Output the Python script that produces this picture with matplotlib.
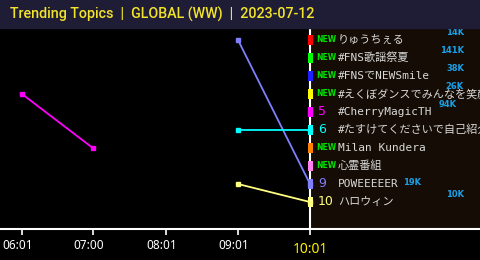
import matplotlib
matplotlib.use("Agg")
import matplotlib.pyplot as plt
import matplotlib.transforms as mtransforms
from matplotlib.patches import Rectangle

# --- data ---
times = ["06:01", "07:00", "08:01", "09:01", "10:01"]
topics = ["りゅうちぇる", "#FNS歌謡祭夏", "#FNSでNEWSmile", "#えくぼダンスでみんなを笑顔に",
          "#CherryMagicTH", "#たすけてくださいで自己紹介", "Milan Kundera", "心霊番組",
          "POWEEEEER", "ハロウィン"]
is_new = [True, True, True, True, False, False, True, True, False, False]
counts = ["14K", "141K", "38K", "26K", "94K", None, None, None, "19K", "10K"]
colors = ["#ff0000", "#00ff00", "#2020ff", "#ffff00", "#ff00ff", "#00ffff",
          "#ff8000", "#ff80f0", "#8080ff", "#ffff80"]

# rank history per time slot (None = not in top 10)
cherry_ranks = [4, 7, None, None, 5]
power_ranks = [None, None, None, 1, 9]
tasukete_ranks = [None, None, None, 6, 6]
halloween_ranks = [None, None, None, 9, 10]
history = [(cherry_ranks, "#ff00ff"), (power_ranks, "#8080ff"),
           (tasukete_ranks, "#00ffff"), (halloween_ranks, "#ffff80")]

# --- layout ---
W, H = 480, 260
PX_MIN = 1.2      # pixels per minute
PX_RANK = 18      # pixels per rank
ax_top, ax_bot = 28, 229
count_right = [464, 464, 464, 464, 457, 0, 0, 0, 421, 464]
count_dy = [7, 7, 7, 7, 7, 0, 0, 0, 1, 7]

minutes = [int(t[:2]) * 60 + int(t[3:]) - 360 for t in times]
x_last = minutes[-1]

fig = plt.figure(figsize=(W / 100, H / 100), dpi=100, facecolor="black")
fig.patches.append(Rectangle((0, 1 - ax_top / H), 1, ax_top / H, transform=fig.transFigure,
                             color="#1f1c35", zorder=0))
ax = fig.add_axes([0, 1 - ax_bot / H, 1, (ax_bot - ax_top) / H])
ax.set_facecolor("black")
x0 = minutes[0] - 22 / PX_MIN
ax.set_xlim(x0, x0 + W / PX_MIN)
r0 = 1 - (40 - ax_top) / PX_RANK
ax.set_ylim(r0 + (ax_bot - ax_top) / PX_RANK, r0)

ax.axvspan(x_last, ax.get_xlim()[1], color="#150d05", zorder=0)
ax.axvline(x_last, color="white", lw=1.5, zorder=1)

for ranks, c in history:
    for i in range(len(ranks) - 1):
        if ranks[i] is not None and ranks[i + 1] is not None:
            ax.plot(minutes[i:i + 2], ranks[i:i + 2], color=c, lw=1.3, zorder=2)
    pts = [(m, r) for m, r in zip(minutes, ranks) if r is not None]
    ax.plot([p[0] for p in pts], [p[1] for p in pts], ls="none", marker="s",
            ms=3.2, color=c, zorder=3)

ranks_now = list(range(1, len(topics) + 1))
ax.bar([x_last] * len(topics), [10 / PX_RANK] * len(topics), width=5 / PX_MIN,
       bottom=[r - 5 / PX_RANK for r in ranks_now], color=colors, zorder=4)


def off(dx, dy):
    return mtransforms.offset_copy(ax.transData, fig=fig, x=dx, y=dy, units="dots")


for r, name, new, cnt, c, cr, dy in zip(ranks_now, topics, is_new, counts, colors,
                                        count_right, count_dy):
    if new:
        ax.text(x_last, r, "NEW", transform=off(6, 0), color="#00e000", fontsize=5.5,
                fontweight="bold", va="center", ha="left", zorder=5)
    else:
        ax.text(x_last, r, str(r), transform=off(8, 0), color=c, fontsize=9,
                va="center", ha="left", zorder=5)
    ax.text(x_last, r, name, transform=off(28, 0), color="#d8d8d8", fontsize=8,
            family=["DejaVu Sans Mono", "Noto Sans CJK JP"], va="center", ha="left",
            zorder=5)
    if cnt:
        ax.text(cr, r, cnt, transform=mtransforms.blended_transform_factory(
                    mtransforms.IdentityTransform(), off(0, dy)),
                color="#18a0e8", fontsize=6, fontweight="bold", va="center", ha="right",
                zorder=6)

# --- axes styling ---
for s in ["top", "left", "right"]:
    ax.spines[s].set_visible(False)
ax.spines["bottom"].set_color("white")
ax.spines["bottom"].set_linewidth(1.5)
ax.set_yticks([])
ax.set_xticks(minutes)
ax.set_xticklabels(times, family="Noto Sans", fontsize=8.5, color="white")
ax.tick_params(axis="x", colors="white", length=4, width=1.2, pad=3)
for i, lab in enumerate(ax.get_xticklabels()):
    if i == len(times) - 1:
        lab.set_color("#ffee00")
        lab.set_fontsize(10)
        lab.set_fontweight("medium")
        lab.set_transform(lab.get_transform() + mtransforms.ScaledTranslation(0, -3 / 100, fig.dpi_scale_trans))
    else:
        lab.set_transform(lab.get_transform() + mtransforms.ScaledTranslation(-4.5 / 100, 0, fig.dpi_scale_trans))

fig.text(10 / W, 1 - 14 / H, "Trending Topics  |  GLOBAL (WW)  |  2023-07-12",
         color="#f2e42a", fontsize=10.3, family="Roboto", fontweight="medium",
         va="center", ha="left")

fig.savefig("out.png", dpi=100, facecolor=fig.get_facecolor())
